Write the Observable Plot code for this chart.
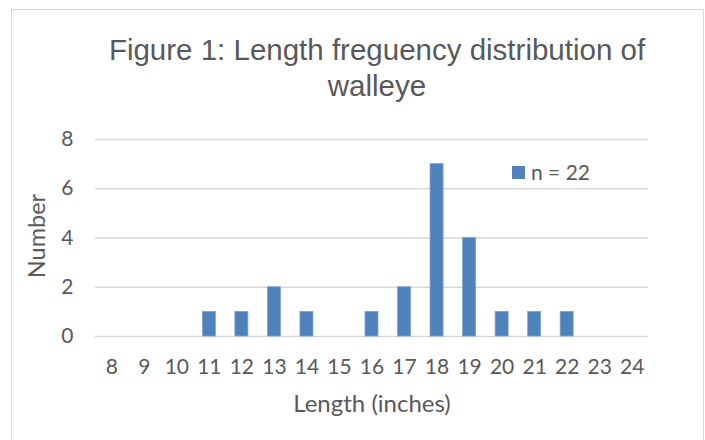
<!DOCTYPE html>
<html><head><meta charset="utf-8">
<script src="https://cdn.jsdelivr.net/npm/d3@7"></script>
<script src="https://cdn.jsdelivr.net/npm/@observablehq/plot@0.6"></script>
<style>
body{margin:0;background:#fff;}
#wrap{position:relative;width:705px;height:440px;overflow:hidden;font-family:Lato, sans-serif;background:#fff;}
#border{position:absolute;left:11px;top:9px;width:693px;height:470px;border:1px solid #d9d9d9;box-sizing:border-box;}
#title{position:absolute;left:0;top:32px;width:754px;text-align:center;font-family:"Liberation Sans",Arial,sans-serif;font-size:29.5px;line-height:36px;color:#595959;}
#legend{position:absolute;left:512px;top:159px;font-size:21px;line-height:26px;color:#595959;display:flex;align-items:center;}
#legend span.sw{display:inline-block;width:13px;height:13px;background:#4f81bd;margin-right:6px;}
#chart{position:absolute;left:0;top:0;}
</style></head>
<body>
<div id="wrap">
<div id="border"></div>
<div id="chart"></div>
<div id="title">Figure 1: Length freguency distribution of<br>walleye</div>
<div id="legend"><span class="sw"></span><span>n = 22</span></div>
</div>
<script>
const lengths = [8, 9, 10, 11, 12, 13, 14, 15, 16, 17, 18, 19, 20, 21, 22, 23, 24];
const counts  = [0, 0, 0, 1, 1, 2, 1, 0, 1, 2, 7, 4, 1, 1, 1, 0, 0];
const yTicks = [0, 2, 4, 6, 8];
const seriesName = "n = 22";
const xTitle = "Length (inches)";
const yTitle = "Number";

const data = lengths.map((l, i) => ({length: String(l), count: counts[i]}));

const chart = Plot.plot({
  width: 705,
  height: 440,
  marginLeft: 95,
  marginRight: 57,
  marginTop: 139,
  marginBottom: 104,
  style: {background: "transparent", fontFamily: "Lato, sans-serif", color: "#595959"},
  x: {domain: lengths.map(String), paddingInner: 0.6, paddingOuter: 0.3, round: false},
  y: {domain: [0, 8]},
  marks: [
    Plot.gridY(yTicks, {stroke: "#d9d9d9", strokeOpacity: 1, strokeWidth: 1.5}),
    Plot.barY(data, {x: "length", y: "count", fill: "#4f81bd", stroke: "#7ea3d0", strokeWidth: 0.8}),
    Plot.axisY(yTicks, {tickSize: 0, tickPadding: 22, fontSize: 21, fill: "#595959", label: null}),
    Plot.axisX({tickSize: 0, tickPadding: 23, fontSize: 21, fill: "#595959", label: null}),
    Plot.text([yTitle], {frameAnchor: "left", textAnchor: "middle", dx: -58, dy: -2, rotate: -90, fontSize: 23.5, fill: "#595959"}),
    Plot.text([xTitle], {frameAnchor: "bottom", lineAnchor: "middle", dy: 68, fontSize: 24, fill: "#595959"})
  ]
});
document.getElementById("chart").appendChild(chart);
</script>
</body></html>
